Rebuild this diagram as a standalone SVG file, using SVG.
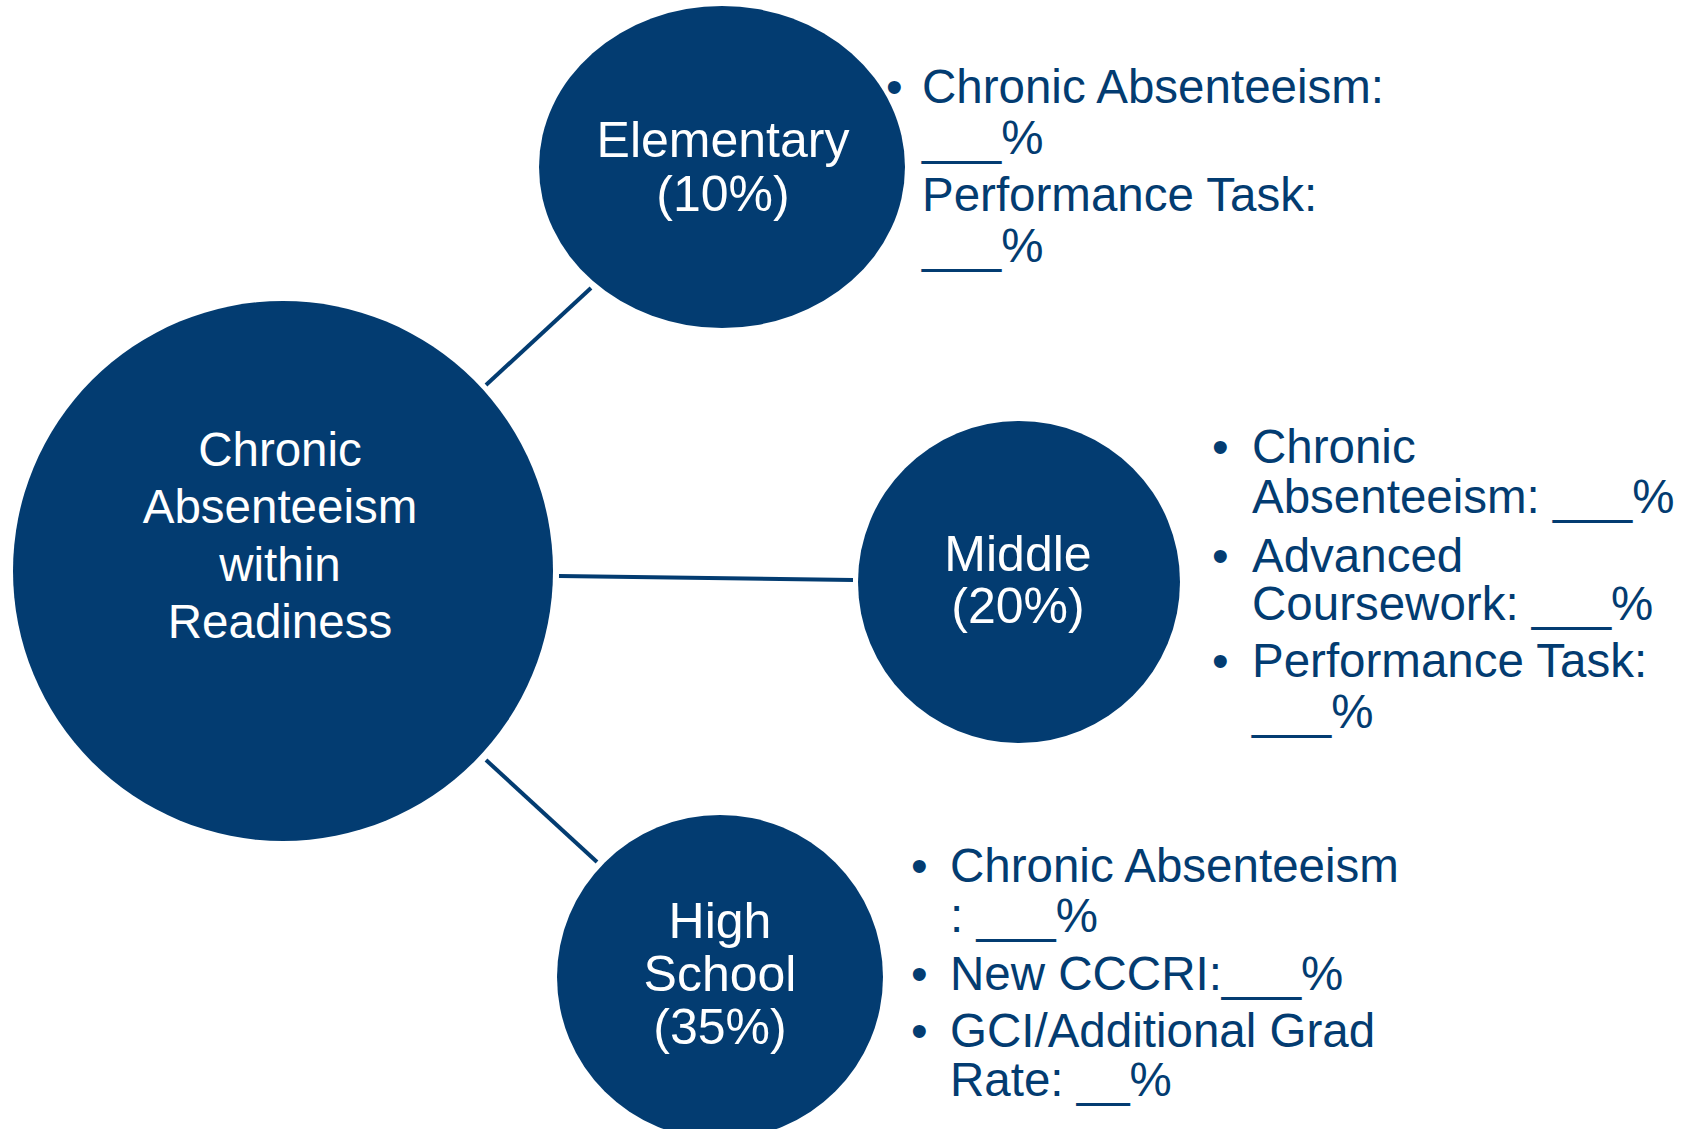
<svg xmlns="http://www.w3.org/2000/svg" width="1685" height="1129" viewBox="0 0 1685 1129">
  <style>
    .node { fill: #033c71; }
    .lbl { fill: #ffffff; font-family: "Liberation Sans", Arial, sans-serif; text-anchor: middle; }
    .main { font-size: 47.5px; }
    .sub { font-size: 50px; }
    .list { fill: #033c71; font-family: "Liberation Sans", Arial, sans-serif; font-size: 47.5px; }
    .edge { stroke: #033c71; stroke-width: 4; fill: none; }
  </style>
  <rect width="1685" height="1129" fill="#ffffff"/>

  <g id="connectors">
    <line class="edge" x1="486" y1="385" x2="591" y2="288"/>
    <line class="edge" x1="559" y1="576" x2="853" y2="580"/>
    <line class="edge" x1="486" y1="760" x2="597" y2="862"/>
  </g>

  <g id="readiness">
    <circle class="node" cx="283" cy="571" r="270"/>
    <text class="lbl main" x="280" y="466">Chronic</text>
    <text class="lbl main" x="280" y="523">Absenteeism</text>
    <text class="lbl main" x="280" y="581">within</text>
    <text class="lbl main" x="280" y="638">Readiness</text>
  </g>

  <g id="elementary">
    <ellipse class="node" cx="722" cy="167" rx="183" ry="161"/>
    <text class="lbl sub" x="723" y="157">Elementary</text>
    <text class="lbl sub" x="723" y="211">(10%)</text>
  </g>

  <g id="elementary-items" class="list">
    <text x="886" y="103">•</text>
    <text x="922" y="103">Chronic Absenteeism:</text>
    <text x="922" y="154">___%</text>
    <text x="922" y="211">Performance Task:</text>
    <text x="922" y="262">___%</text>
  </g>

  <g id="middle">
    <circle class="node" cx="1019" cy="582" r="161"/>
    <text class="lbl sub" x="1018" y="571">Middle</text>
    <text class="lbl sub" x="1018" y="623">(20%)</text>
  </g>

  <g id="middle-items" class="list">
    <text x="1212" y="463">•</text>
    <text x="1252" y="463">Chronic</text>
    <text x="1252" y="513">Absenteeism: ___%</text>
    <text x="1212" y="572">•</text>
    <text x="1252" y="572">Advanced</text>
    <text x="1252" y="620">Coursework: ___%</text>
    <text x="1212" y="677">•</text>
    <text x="1252" y="677">Performance Task:</text>
    <text x="1252" y="728">___%</text>
  </g>

  <g id="high-school">
    <ellipse class="node" cx="720" cy="977" rx="163" ry="162"/>
    <text class="lbl sub" x="720" y="938">High</text>
    <text class="lbl sub" x="720" y="991">School</text>
    <text class="lbl sub" x="720" y="1044">(35%)</text>
  </g>

  <g id="high-school-items" class="list">
    <text x="911" y="882">•</text>
    <text x="950" y="882">Chronic Absenteeism</text>
    <text x="950" y="932">: ___%</text>
    <text x="911" y="990">•</text>
    <text x="950" y="990">New CCCRI:___%</text>
    <text x="911" y="1047">•</text>
    <text x="950" y="1047">GCI/Additional Grad</text>
    <text x="950" y="1096">Rate: __%</text>
  </g>
</svg>
